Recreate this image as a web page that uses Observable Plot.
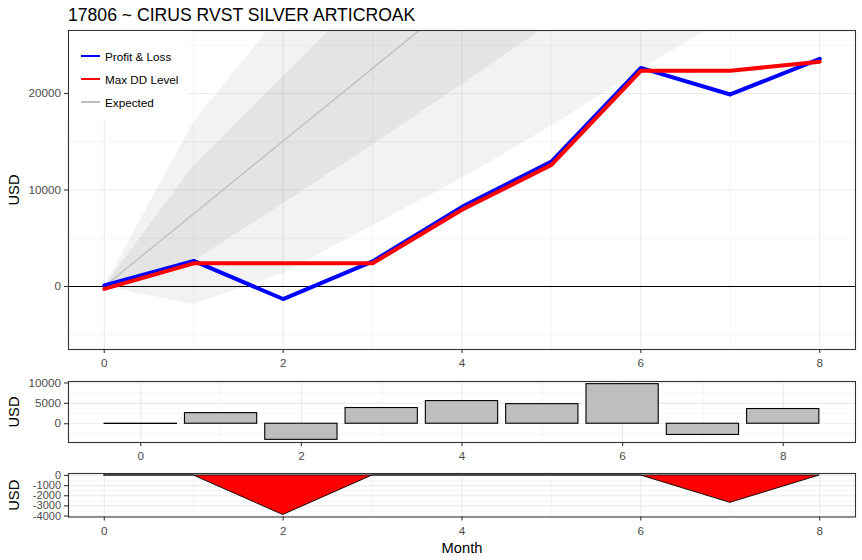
<!DOCTYPE html>
<html>
<head>
<meta charset="utf-8">
<script src="https://cdn.jsdelivr.net/npm/d3@7"></script>
<script src="https://cdn.jsdelivr.net/npm/@observablehq/plot@0.6"></script>
<style>
  html, body { margin: 0; padding: 0; background: #ffffff; }
  body { font-family: "Liberation Sans", Arial, sans-serif; }
  #wrap { position: relative; width: 862px; height: 560px; overflow: hidden; }
  #charts svg { display: block; }
  #title { position: absolute; left: 68px; top: 7px; font-size: 17.6px; line-height: 17.6px; color: #000; white-space: nowrap; }
  #legend { position: absolute; left: 69px; top: 31px; width: 118px; height: 89px; background: #ffffff; }
  .lg-row { position: absolute; left: 12px; height: 14px; }
  .lg-key { position: absolute; left: 0; top: 5px; width: 19px; height: 2px; }
  .lg-txt { position: absolute; left: 24px; top: 0px; font-size: 11.7px; line-height: 14px; color: #000; white-space: nowrap; }
</style>
</head>
<body>
<div id="wrap">
  <div id="charts"></div>
  <div id="title">17806 ~ CIRUS RVST SILVER ARTICROAK</div>
  <div id="legend"></div>
</div>
<script>
// ---- data ----
const months      = [0, 1, 2, 3, 4, 5, 6, 7, 8];
const pnl         = [100, 2650, -1300, 2600, 8250, 12950, 22650, 19900, 23600];
const maxDDLevel  = [-250, 2400, 2400, 2400, 7950, 12600, 22350, 22350, 23300];
const monthlyPnl  = [-50, 2600, -3950, 3850, 5550, 4800, 9700, -2750, 3600];
const drawdown    = [0, 0, -3900, 0, 0, 0, 0, -2700, 0];
const expected    = [0, 7540, 15080, 22610, 30150, 37690, 45230, 52760, 60300];
const outerLow    = [0, -1870, 1350, 6300, 11200, 16600, 22500, 27950, 33800];
const outerHigh   = [0, 17000, 28500, 39000, 49000, 59000, 68000, 77500, 87000];
const innerLow    = [0, 2600, 8570, 14640, 20900, 27300, 33400, 39500, 45600];
const innerHigh   = [0, 12500, 21700, 31000, 40000, 49000, 58200, 67400, 76600];

const legendItems  = ["Profit & Loss", "Max DD Level", "Expected"];
const legendColors = ["#0000ff", "#ff0000", "#bebebe"];

// tick / grid positions
const xMajor = [0, 2, 4, 6, 8];
const xMinor = [1, 3, 5, 7];
const yMainMajor = [0, 10000, 20000];
const yMainMinor = [-5000, 5000, 15000, 25000];
const yBarMajor = [0, 5000, 10000];
const yBarMinor = [-2500, 2500, 7500];
const yDDMajor = [0, -1000, -2000, -3000, -4000];
const yDDMinor = [-500, -1500, -2500, -3500];

const table = months.map((m, i) => ({
  month: m, pnl: pnl[i], maxDD: maxDDLevel[i], monthly: monthlyPnl[i],
  dd: drawdown[i], expected: expected[i],
  outerLow: outerLow[i], outerHigh: outerHigh[i],
  innerLow: innerLow[i], innerHigh: innerHigh[i]
}));

const FONT = '"Liberation Sans", Arial, sans-serif';
const GRID = "#EBEBEB";
const style = { fontFamily: FONT, fontSize: "11.7px", background: "transparent", overflow: "visible" };

function grids(xMaj, xMin, yMaj, yMin) {
  return [
    Plot.gridY(yMin, { stroke: GRID, strokeOpacity: 1, strokeWidth: 0.55 }),
    Plot.gridX(xMin, { stroke: GRID, strokeOpacity: 1, strokeWidth: 0.55 }),
    Plot.gridY(yMaj, { stroke: GRID, strokeOpacity: 1, strokeWidth: 1.1 }),
    Plot.gridX(xMaj, { stroke: GRID, strokeOpacity: 1, strokeWidth: 1.1 })
  ];
}
function axes(xTicks, yTicks, yFont) {
  return [
    Plot.axisX(xTicks, { tickSize: 4, tickPadding: 5.5, stroke: "#333333", strokeWidth: 1.1, fill: "#4D4D4D", label: null, tickFormat: d => String(d) }),
    Plot.axisY(yTicks, { tickSize: 4, tickPadding: 3.5, stroke: "#333333", strokeWidth: 1.1, fill: "#4D4D4D", label: null, tickFormat: d => String(d), fontSize: yFont || 11.7 }),
    Plot.text(["USD"], { frameAnchor: "left", dx: -54, rotate: -90, textAnchor: "middle", lineAnchor: "middle", fill: "#000", fontSize: 14.7 })
  ];
}

const mainPlot = Plot.plot({
  width: 862, height: 370,
  marginLeft: 68, marginRight: 7, marginTop: 30, marginBottom: 21,
  style,
  x: { domain: [-0.4, 8.4] },
  y: { domain: [-6530, 26530] },
  marks: [
    ...grids(xMajor, xMinor, yMainMajor, yMainMinor),
    Plot.areaY(table, { x: "month", y1: "outerLow", y2: "outerHigh", fill: "#000", fillOpacity: 0.05, clip: true }),
    Plot.areaY(table, { x: "month", y1: "innerLow", y2: "innerHigh", fill: "#000", fillOpacity: 0.055, clip: true }),
    Plot.line(table, { x: "month", y: "expected", stroke: "#c2c2c2", strokeWidth: 1.5, clip: true }),
    Plot.ruleY([0], { stroke: "#000", strokeWidth: 1.1 }),
    Plot.line(table, { x: "month", y: "pnl", stroke: "#0000ff", strokeWidth: 4, clip: true }),
    Plot.line(table, { x: "month", y: "maxDD", stroke: "#ff0000", strokeWidth: 4, clip: true }),
    Plot.frame({ stroke: "#333333", strokeWidth: 1.1 }),
    ...axes(xMajor, yMainMajor)
  ]
});

const barPlot = Plot.plot({
  width: 862, height: 100,
  marginLeft: 68, marginRight: 7, marginTop: 11, marginBottom: 28,
  style,
  x: { domain: [-0.9, 8.9] },
  y: { domain: [-4600, 10350] },
  marks: [
    ...grids(xMajor, xMinor, yBarMajor, yBarMinor),
    Plot.rect(table, { x1: d => d.month - 0.45, x2: d => d.month + 0.45, y1: () => 0, y2: "monthly", fill: "#BEBEBE", stroke: "#000", strokeWidth: 1.1 }),
    Plot.frame({ stroke: "#333333", strokeWidth: 1.1 }),
    ...axes(xMajor, yBarMajor)
  ]
});

const ddPlot = Plot.plot({
  width: 862, height: 90,
  marginLeft: 68, marginRight: 7, marginTop: 3, marginBottom: 43.5,
  style,
  x: { domain: [-0.4, 8.4] },
  y: { domain: [-4095, 195] },
  marks: [
    ...grids(xMajor, xMinor, yDDMajor, yDDMinor),
    Plot.areaY(table, { x: "month", y1: () => 0, y2: "dd", fill: "#ff0000", stroke: "#000", strokeWidth: 0.9 }),
    Plot.frame({ stroke: "#333333", strokeWidth: 1.1 }),
    ...axes(xMajor, yDDMajor, 11),
    Plot.text(["Month"], { frameAnchor: "bottom", dy: 31.5, textAnchor: "middle", lineAnchor: "middle", fill: "#000", fontSize: 14.7 })
  ]
});

const charts = document.getElementById("charts");
charts.append(mainPlot, barPlot, ddPlot);

// legend (inside the main panel, top-left)
const legend = document.getElementById("legend");
const rowTops = [19, 42, 65];
legendItems.forEach((name, i) => {
  const row = document.createElement("div");
  row.className = "lg-row";
  row.style.top = rowTops[i] + "px";
  const key = document.createElement("div");
  key.className = "lg-key";
  key.style.backgroundColor = legendColors[i];
  const txt = document.createElement("div");
  txt.className = "lg-txt";
  txt.textContent = name;
  row.append(key, txt);
  legend.append(row);
});
</script>
</body>
</html>
